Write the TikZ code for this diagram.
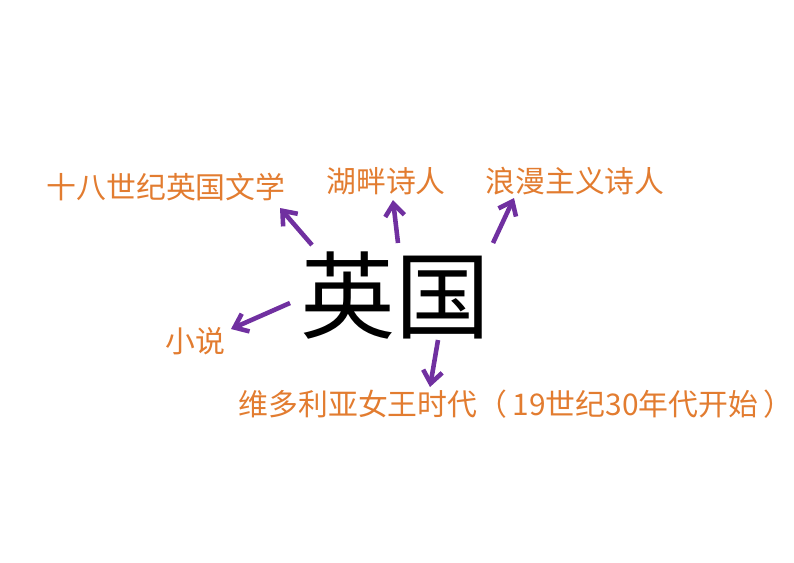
\documentclass[tikz,border=0pt]{standalone}
\usepackage{fontspec}
\setmainfont{Noto Sans CJK SC}
\usepackage{tikz}
\usetikzlibrary{arrows.meta}

\definecolor{lila}{RGB}{112,48,160}
\definecolor{orange}{RGB}{226,124,48}

\begin{document}
\begin{tikzpicture}[x=0.02cm, y=-0.02cm,
		thema/.style={text=orange, font=\fontsize{17}{20}\selectfont, inner sep=0pt},
		pfeil/.style={lila, line width=2.6pt, -{Straight Barb[length=7pt,width=11pt]}}]

				\useasboundingbox (0, 0) rectangle (794, 562);

				\node[font=\fontsize{54}{60}\selectfont, inner sep=0pt](uk) at (395, 296){英国};

				\node[thema](lit) at (166, 187){十八世纪英国文学};
				\node[thema](lake) at (386, 181){湖畔诗人};
				\node[thema](roman) at (575, 181){浪漫主义诗人};
				\node[thema](novel) at (195, 341){小说};
				\node[thema](vic) at (516, 404){维多利亚女王时代（\hspace{3pt}19世纪30年代开始\hspace{3pt}）};

				\coordinate(a) at (312, 245);
				\coordinate(b) at (398, 243);
				\coordinate(c) at (493, 243);
				\coordinate(d) at (290, 303);
				\coordinate(e) at (438, 340);
				\coordinate(a') at (280, 208);
				\coordinate(b') at (393, 200);
				\coordinate(c') at (514, 198);
				\coordinate(d') at (231, 329);
				\coordinate(e') at (430, 387);

				\draw[pfeil] (a)--(a');
				\draw[pfeil] (b)--(b');
				\draw[pfeil] (c)--(c');
				\draw[pfeil] (d)--(d');
				\draw[pfeil] (e)--(e');
			\end{tikzpicture}
\end{document}
